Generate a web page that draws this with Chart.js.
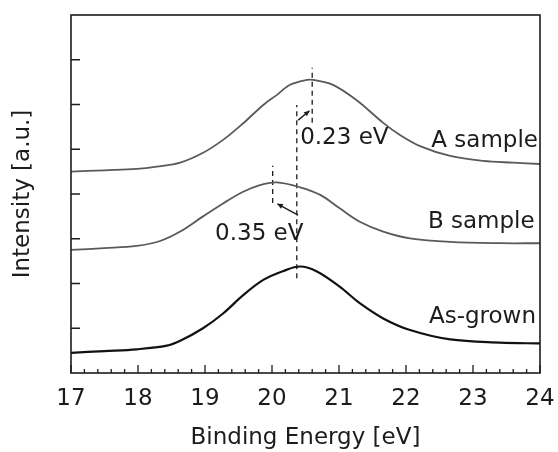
<!DOCTYPE html>
<html>
<head>
<meta charset="utf-8">
<script src="https://cdn.jsdelivr.net/npm/chart.js@4"></script>
<style>
  body { margin: 0; background: #fff; }
  #wrap { width: 558px; height: 452px; }
</style>
</head>
<body>
<div id="wrap"><canvas id="xpsChart"></canvas></div>
<script>
// values (binding energy in eV, intensity in a.u. with offsets)
var aX = [17.0, 17.5, 17.98, 18.28, 18.63, 18.97, 19.27, 19.57, 19.87, 20.07, 20.27, 20.52, 20.61, 20.91, 21.26, 21.66, 21.91, 22.21, 22.66, 23.15, 23.6, 24.0];
var aY = [4.50, 4.53, 4.56, 4.61, 4.70, 4.92, 5.21, 5.58, 5.99, 6.21, 6.44, 6.55, 6.55, 6.44, 6.10, 5.59, 5.32, 5.07, 4.85, 4.74, 4.70, 4.67];

var bX = [17.0, 17.5, 17.98, 18.33, 18.63, 18.97, 19.27, 19.57, 19.82, 20.07, 20.42, 20.72, 21.01, 21.31, 21.66, 22.06, 22.66, 23.4, 24.0];
var bY = [2.75, 2.79, 2.84, 2.95, 3.16, 3.50, 3.79, 4.05, 4.20, 4.26, 4.15, 3.98, 3.68, 3.38, 3.16, 3.01, 2.93, 2.90, 2.90];

var gX = [17.0, 17.5, 17.98, 18.43, 18.63, 18.97, 19.27, 19.57, 19.87, 20.17, 20.42, 20.67, 21.01, 21.31, 21.66, 22.06, 22.66, 23.4, 24.0];
var gY = [0.45, 0.49, 0.53, 0.61, 0.72, 1.00, 1.33, 1.74, 2.08, 2.28, 2.38, 2.27, 1.93, 1.56, 1.22, 0.96, 0.75, 0.68, 0.66];

// peak marker lines (x, y from, y to)
var peakA = [20.6, 5.59, 6.82];
var peakG = [20.37, 2.12, 5.99];
var peakB = [20.01, 3.80, 4.63];

// shift arrows [x0, y0, x1, y1], head at the second point
var arrowA = [20.39, 5.65, 20.56, 5.86];
var arrowB = [20.39, 3.53, 20.08, 3.78];

// text labels
var labelText = ["0.23 eV", "A sample", "0.35 eV", "B sample", "As-grown"];
var labelX = [20.42, 23.97, 19.15, 23.92, 23.94];
var labelY = [5.25, 5.18, 3.10, 3.37, 1.25];
var labelAlign = ["left", "right", "left", "right", "right"];

var xTicks = [17, 18, 19, 20, 21, 22, 23, 24];

var inkColor = "#1c1c1c";
var fontName = "'DejaVu Sans', sans-serif";

function pts(xs, ys) {
    var out = [];
    for (var i = 0; i < xs.length; i++) {
        out.push({ x: xs[i], y: ys[i] });
    }
    return out;
}

function vline(p) {
    return [{ x: p[0], y: p[1] }, { x: p[0], y: p[2] }];
}

function curveSet(data, color, width) {
    return {
        data: data,
        borderColor: color,
        borderWidth: width,
        pointRadius: 0,
        fill: false,
        tension: 0.35
    };
}

function dashSet(data) {
    return {
        data: data,
        borderColor: inkColor,
        borderWidth: 1.3,
        borderDash: [5, 4],
        pointRadius: 0,
        fill: false,
        tension: 0
    };
}

function thinSet(data) {
    return {
        data: data,
        borderColor: inkColor,
        borderWidth: 1.4,
        pointRadius: 0,
        fill: false,
        tension: 0
    };
}

// frame, inward ticks, arrow heads and the text labels
var decorPlugin = {
    id: 'decor',
    afterDatasetsDraw: function (chart) {
        var ctx = chart.ctx;
        var area = chart.chartArea;
        var sx = chart.scales.x;
        var sy = chart.scales.y;

        ctx.save();
        ctx.strokeStyle = inkColor;
        ctx.lineWidth = 1.6;
        ctx.strokeRect(area.left, area.top, area.right - area.left, area.bottom - area.top);

        // x ticks, major every 1 and minor every 0.2
        ctx.lineWidth = 1.3;
        ctx.beginPath();
        for (var k = 0; k <= 35; k++) {
            var v = 17 + k * 0.2;
            var px = sx.getPixelForValue(v);
            var len = (k % 5 === 0) ? 8 : 4;
            ctx.moveTo(px, area.bottom);
            ctx.lineTo(px, area.bottom - len);
        }
        // y ticks
        for (var t = 1; t <= 7; t++) {
            var py = sy.getPixelForValue(t);
            ctx.moveTo(area.left, py);
            ctx.lineTo(area.left + 9, py);
        }
        ctx.stroke();

        // arrow heads
        [arrowA, arrowB].forEach(function (a) {
            var x0 = sx.getPixelForValue(a[0]), y0 = sy.getPixelForValue(a[1]);
            var x1 = sx.getPixelForValue(a[2]), y1 = sy.getPixelForValue(a[3]);
            var ang = Math.atan2(y1 - y0, x1 - x0);
            var h = 6;
            ctx.fillStyle = inkColor;
            ctx.beginPath();
            ctx.moveTo(x1, y1);
            ctx.lineTo(x1 - h * Math.cos(ang - 0.45), y1 - h * Math.sin(ang - 0.45));
            ctx.lineTo(x1 - h * Math.cos(ang + 0.45), y1 - h * Math.sin(ang + 0.45));
            ctx.closePath();
            ctx.fill();
        });

        // labels
        ctx.font = "23px " + fontName;
        ctx.fillStyle = inkColor;
        ctx.textBaseline = 'middle';
        for (var i = 0; i < labelText.length; i++) {
            ctx.textAlign = labelAlign[i];
            ctx.fillText(labelText[i], sx.getPixelForValue(labelX[i]), sy.getPixelForValue(labelY[i]));
        }
        ctx.restore();
    }
};

var canvasContex = document.getElementById('xpsChart').getContext('2d');

var chartObj = new Chart(canvasContex, {
    type: 'line',
    data: {
        datasets: [
            curveSet(pts(aX, aY), "#5a5a5a", 1.8),
            curveSet(pts(bX, bY), "#5a5a5a", 1.8),
            curveSet(pts(gX, gY), "#111111", 2.2),
            dashSet(vline(peakA)),
            dashSet(vline(peakG)),
            dashSet(vline(peakB)),
            thinSet([{ x: arrowA[0], y: arrowA[1] }, { x: arrowA[2], y: arrowA[3] }]),
            thinSet([{ x: arrowB[0], y: arrowB[1] }, { x: arrowB[2], y: arrowB[3] }])
        ]
    },
    options: {
        responsive: true,
        maintainAspectRatio: false,
        animation: false,
        layout: {
            padding: { left: 0, top: 15, right: 18, bottom: 0 }
        },
        plugins: {
            legend: { display: false },
            tooltip: { enabled: false }
        },
        scales: {
            x: {
                type: 'linear',
                min: 17,
                max: 24,
                afterFit: function (s) {
                    s.height = 79;
                    s.paddingLeft = 0;
                    s.paddingRight = 0;
                },
                afterBuildTicks: function (s) {
                    s.ticks = xTicks.map(function (v) { return { value: v }; });
                },
                grid: { display: false, drawTicks: false },
                border: { display: false },
                ticks: {
                    color: inkColor,
                    padding: 12,
                    maxRotation: 0,
                    font: { size: 23, family: fontName }
                },
                title: {
                    display: true,
                    text: 'Binding Energy [eV]',
                    color: inkColor,
                    padding: { top: 0, bottom: 0 },
                    font: { size: 23, family: fontName }
                }
            },
            y: {
                type: 'linear',
                min: 0,
                max: 8,
                afterFit: function (s) { s.width = 71; },
                grid: { display: false, drawTicks: false },
                border: { display: false },
                ticks: { display: false, stepSize: 1 },
                title: {
                    display: true,
                    text: 'Intensity [a.u.]',
                    color: inkColor,
                    padding: { top: 9, bottom: 0 },
                    font: { size: 23, family: fontName }
                }
            }
        }
    },
    plugins: [decorPlugin]
});
</script>
</body>
</html>
